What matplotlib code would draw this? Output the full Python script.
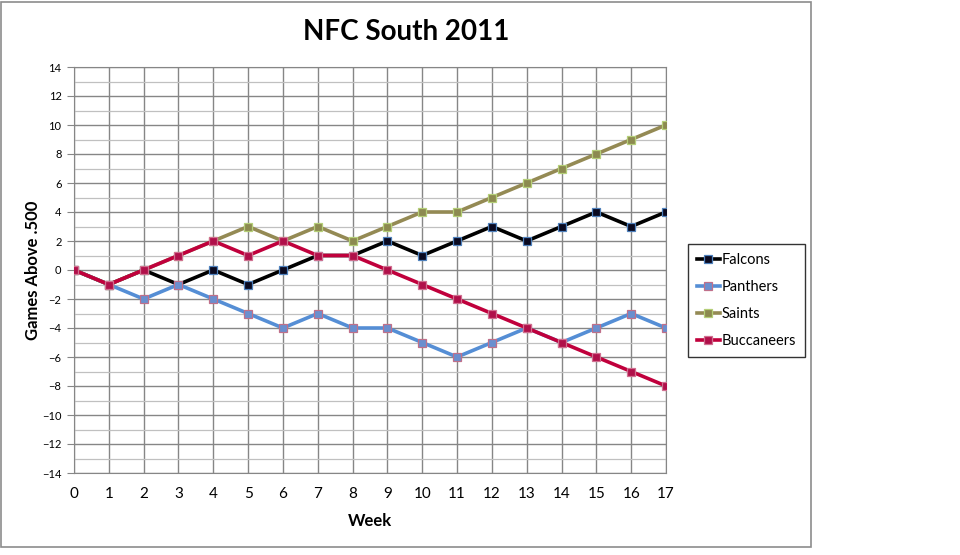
import matplotlib.pyplot as plt
from matplotlib.patches import Rectangle
from matplotlib.ticker import MultipleLocator

plt.rcParams['font.family'] = ['Lato', 'DejaVu Sans']

weeks = list(range(18))
falcons = [0, -1, 0, -1, 0, -1, 0, 1, 1, 2, 1, 2, 3, 2, 3, 4, 3, 4]
panthers = [0, -1, -2, -1, -2, -3, -4, -3, -4, -4, -5, -6, -5, -4, -5, -4, -3, -4]
saints = [0, -1, 0, 1, 2, 3, 2, 3, 2, 3, 4, 4, 5, 6, 7, 8, 9, 10]
buccaneers = [0, -1, 0, 1, 2, 1, 2, 1, 1, 0, -1, -2, -3, -4, -5, -6, -7, -8]

teams = ['Falcons', 'Panthers', 'Saints', 'Buccaneers']
series = [falcons, panthers, saints, buccaneers]
line_colors = ['#000000', '#558ED5', '#948A54', '#C0003C']
face_colors = ['#0A0A20', '#6A8FCF', '#8C8A50', '#B0104A']
edge_colors = ['#4F81BD', '#C0708A', '#B5CF78', '#D07090']

fig = plt.figure(figsize=(9.6, 5.55), dpi=100)
ax = fig.add_axes([74 / 960, 1 - 473 / 555, 592 / 960, 406 / 555])

# outer chart border
fig.patches.append(Rectangle((1 / 960, 1 - 547 / 555), 810 / 960, 545 / 555,
                             transform=fig.transFigure, fill=False,
                             edgecolor='#8C8C8C', linewidth=1.2))

for name, vals, lc, fc, ec in zip(teams, series, line_colors, face_colors, edge_colors):
    ax.plot(weeks, vals, color=lc, linewidth=2.6, marker='s', markersize=5.5,
            markerfacecolor=fc, markeredgecolor=ec, markeredgewidth=0.9,
            label=name, zorder=3)

ax.set_xlim(0, 17)
ax.set_ylim(-14, 14)
ax.xaxis.set_major_locator(MultipleLocator(1))
ax.yaxis.set_major_locator(MultipleLocator(2))
ax.yaxis.set_minor_locator(MultipleLocator(1))
ax.grid(which='major', color='#868686', linewidth=1.0)
ax.grid(which='minor', axis='y', color='#C0C0C0', linewidth=0.9)
ax.set_axisbelow(True)
for s in ax.spines.values():
    s.set_color('#868686')
ax.tick_params(axis='y', which='major', length=5, color='#868686', labelsize=8, pad=4)
ax.tick_params(axis='y', which='minor', length=0)
ax.tick_params(axis='x', length=0, labelsize=11, pad=10)

ax.set_xlabel('Week', fontsize=12, fontweight='bold', labelpad=9)
ax.set_ylabel('Games Above .500', fontsize=12, fontweight='bold', labelpad=1)
fig.text(406 / 960, 1 - 32 / 555, 'NFC South 2011', fontsize=20, fontweight='bold',
         ha='center', va='center')

leg = ax.legend(loc='upper left', bbox_to_anchor=(688 / 960, 1 - 244 / 555),
                bbox_transform=fig.transFigure, fancybox=False, frameon=True,
                edgecolor='black', fontsize=10.5, handlelength=1.6, handletextpad=0.1,
                labelspacing=0.9, borderpad=0.6, borderaxespad=0)
leg.get_frame().set_linewidth(1.0)

fig.savefig('out.png', dpi=100)
